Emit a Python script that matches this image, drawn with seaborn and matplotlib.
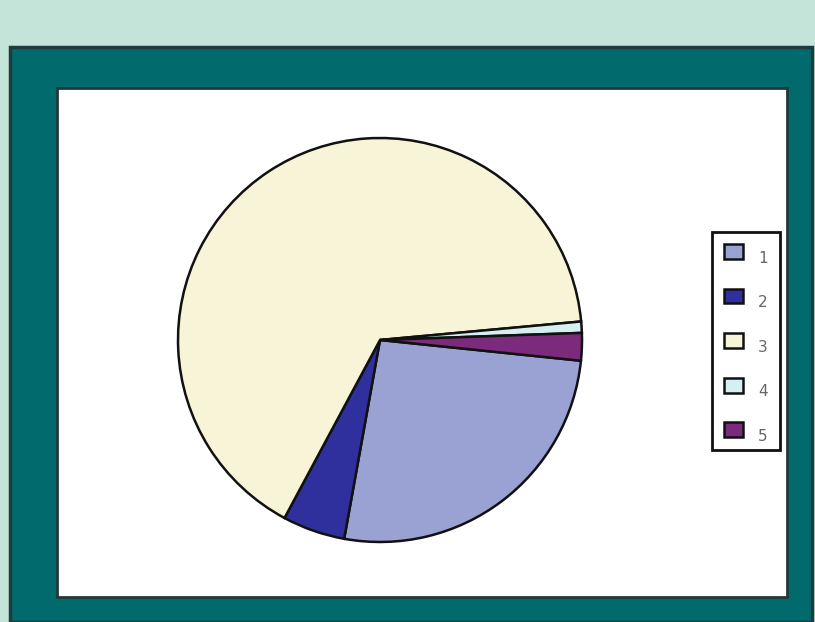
import matplotlib.pyplot as plt
import seaborn as sns
from matplotlib.patches import Rectangle
from matplotlib.transforms import ScaledTranslation

# slice data (in percent)
labels = ["1", "2", "3", "4", "5"]
values = [26.2, 5.0, 65.7, 0.9, 2.2]
colors = ["#99a2d3", "#2f2f9e", "#f8f4d8", "#d6eff0", "#7b2a7c"]

sns.set_theme(style="white")

W, H = 815, 622
fig = plt.figure(figsize=(W / 100, H / 100), dpi=100)
fig.patch.set_facecolor("#c4e3d9")

# teal frame and white panel (behind the axes)
fig.patches.append(Rectangle((10 / W, 0), (812 - 10) / W, (622 - 47) / H,
                             transform=fig.transFigure, facecolor="#006a6d",
                             edgecolor="#1e3c3e", linewidth=2.5, zorder=-10))
fig.patches.append(Rectangle((57 / W, (H - 597) / H), 730 / W, 509 / H,
                             transform=fig.transFigure, facecolor="white",
                             edgecolor="#22393b", linewidth=2, zorder=-9))

# pie axes, square in pixels
cx, cy, r = 380, 340, 203
ax = fig.add_axes([(cx - r) / W, (H - cy - r) / H, 2 * r / W, 2 * r / H])
ax.patch.set_alpha(0)
wedges, _ = ax.pie(values, colors=colors, startangle=-5.9, counterclock=False,
                   wedgeprops=dict(edgecolor="#111111", linewidth=1.8))
ax.set_xlim(-1.005, 1.005)
ax.set_ylim(-1.005, 1.005)
ax.set_aspect("auto")
ax.axis("off")

leg = fig.legend(wedges, labels, loc="upper left",
                 bbox_to_anchor=(712 / W, 1 - 232 / H),
                 frameon=True, fancybox=False, fontsize=11,
                 handlelength=1.2, handleheight=1.1, handletextpad=1.0,
                 labelspacing=1.9, borderpad=0.8, borderaxespad=0)
leg.set_zorder(5)
leg.get_frame().set_edgecolor("#111111")
leg.get_frame().set_linewidth(2)
leg.get_frame().set_alpha(1)
for t in leg.get_texts():
    t.set_color("#666666")
    # labels sit a little lower than their squares
    t.set_transform(t.get_transform() + ScaledTranslation(0, -0.06, fig.dpi_scale_trans))
for h in leg.legend_handles:
    h.set_edgecolor("#111111")
    h.set_linewidth(1.8)

fig.savefig("out.png", dpi=100, facecolor=fig.get_facecolor())
